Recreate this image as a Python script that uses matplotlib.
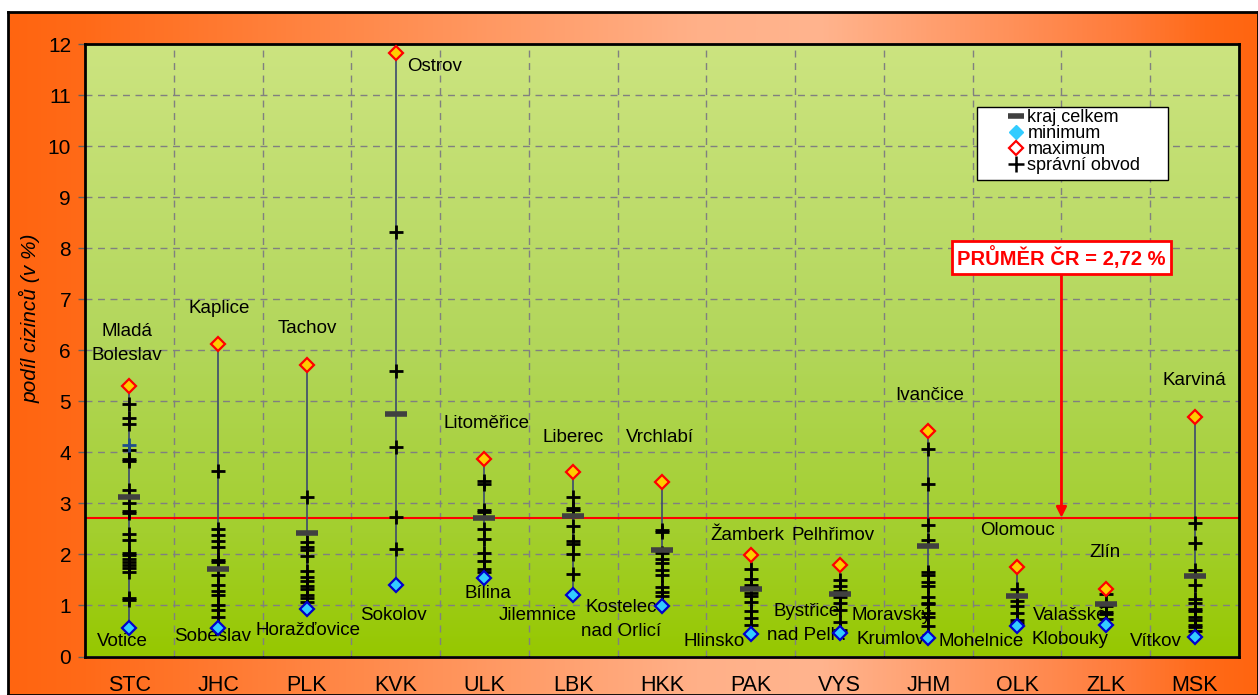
import matplotlib
matplotlib.use('Agg')
import matplotlib.pyplot as plt
import numpy as np
from matplotlib.colors import LinearSegmentedColormap
from matplotlib.lines import Line2D
from matplotlib.patches import Rectangle

plt.rcParams['font.family'] = ['Liberation Sans', 'DejaVu Sans']

# data: share of foreigners (%) by region
regions = ['STC', 'JHC', 'PLK', 'KVK', 'ULK', 'LBK', 'HKK', 'PAK', 'VYS', 'JHM', 'OLK', 'ZLK', 'MSK']
kraj_celkem = [3.12, 1.71, 2.41, 4.76, 2.72, 2.76, 2.09, 1.32, 1.22, 2.17, 1.19, 1.03, 1.58]
maximum = [5.30, 6.12, 5.71, 11.83, 3.86, 3.61, 3.41, 1.99, 1.79, 4.42, 1.76, 1.33, 4.70]
minimum = [0.55, 0.55, 0.94, 1.40, 1.54, 1.20, 0.98, 0.45, 0.47, 0.36, 0.60, 0.62, 0.39]
max_names = ['Mladá\nBoleslav', 'Kaplice', 'Tachov', 'Ostrov', 'Litoměřice', 'Liberec', 'Vrchlabí',
             'Žamberk', 'Pelhřimov', 'Ivančice', 'Olomouc', 'Zlín', 'Karviná']
min_names = ['Votice', 'Soběslav', 'Horažďovice', 'Sokolov', 'Bílina', 'Jilemnice', 'Kostelec\nnad Orlicí',
             'Hlinsko', 'Bystřice\nnad Pelh.', 'Moravský\nKrumlov', 'Mohelnice', 'Valašské\nKlobouky', 'Vítkov']

obvody_stc = [4.95, 4.67, 4.56, 4.05, 3.87, 3.83, 3.26, 3.01, 2.85, 2.82, 2.40, 2.28, 2.03, 1.99,
              1.92, 1.86, 1.79, 1.73, 1.65, 1.14, 1.10]
obvody_stc_blue = [4.15]
obvody_jhc = [3.63, 2.50, 2.39, 2.27, 2.15, 1.89, 1.85, 1.60, 1.40, 1.29, 1.20, 1.01, 0.92, 0.77]
obvody_plk = [3.13, 2.24, 2.14, 2.09, 1.96, 1.68, 1.56, 1.47, 1.38, 1.32, 1.20, 1.14, 1.07]
obvody_kvk = [8.31, 5.60, 4.11, 2.73, 2.11]
obvody_ulk = [3.44, 3.38, 2.88, 2.84, 2.49, 2.30, 2.03, 1.88, 1.71, 1.65]
obvody_lbk = [3.13, 2.90, 2.87, 2.56, 2.26, 2.20, 2.00, 1.62]
obvody_hkk = [2.47, 2.43, 2.02, 1.92, 1.83, 1.69, 1.60, 1.37, 1.27, 1.19]
obvody_pak = [1.71, 1.51, 1.40, 1.36, 1.24, 1.18, 1.07, 0.90, 0.75, 0.62]
obvody_vys = [1.49, 1.38, 1.29, 1.16, 1.04, 0.91, 0.68, 0.52]
obvody_jhm = [4.06, 3.37, 2.58, 2.28, 1.66, 1.60, 1.45, 1.38, 1.17, 1.05, 1.03, 0.86, 0.78, 0.60]
obvody_olk = [1.32, 1.09, 0.98, 0.85, 0.72, 0.65]
obvody_zlk = [1.22, 0.98, 0.88, 0.83, 0.73]
obvody_msk = [2.62, 2.23, 1.69, 1.41, 1.12, 1.04, 0.94, 0.90, 0.78, 0.72, 0.62, 0.57, 0.49]
obvody = [obvody_stc, obvody_jhc, obvody_plk, obvody_kvk, obvody_ulk, obvody_lbk, obvody_hkk,
          obvody_pak, obvody_vys, obvody_jhm, obvody_olk, obvody_zlk, obvody_msk]
prumer_cr = 2.72

# label placement (offset from category, height in %)
max_dx = [-0.03, 0.01, 0.0, 0.13, 0.02, 0.0, -0.02, -0.04, -0.07, 0.01, 0.01, -0.01, 0.0]
max_y = [6.13, 6.81, 6.42, 11.56, 4.57, 4.30, 4.30, 2.38, 2.38, 5.12, 2.46, 2.03, 5.40]
min_dx = [-0.075, -0.06, 0.01, -0.03, 0.04, -0.40, -0.46, -0.41, -0.37, -0.42, -0.40, -0.40, -0.44]
min_y = [0.30, 0.39, 0.50, 0.81, 1.24, 0.81, 0.72, 0.29, 0.65, 0.56, 0.30, 0.56, 0.30]

W, H = 1258, 695
fig = plt.figure(figsize=(W / 100, H / 100), dpi=100)

# orange chart area background
bg = fig.add_axes([8 / W, 0, 1 - 8 / W, 1 - 12 / H])
orange = LinearSegmentedColormap.from_list('orange', [
    (0.0, '#FF6510'), (0.06, '#FF6A18'), (0.55, '#FFB088'), (0.65, '#FFB48E'),
    (0.9, '#FF7A38'), (0.96, '#FF6A18'), (1.0, '#FF6510')])
bg.imshow(np.linspace(0, 1, 512)[None, :], aspect='auto', cmap=orange, extent=(0, 1, 0, 1))
bg.set_xticks([])
bg.set_yticks([])
for s in bg.spines.values():
    s.set_linewidth(2)
    s.set_color('black')

ax = fig.add_axes([85 / W, 1 - 656.5 / H, 1154 / W, 612.5 / H])
green = LinearSegmentedColormap.from_list('green', [
    (0.0, '#CCE480'), (0.5, '#B2D65A'), (0.8, '#A3CF2E'), (1.0, '#96C800')])
ax.imshow(np.linspace(0, 1, 256)[:, None], aspect='auto', cmap=green,
          extent=(-0.5, len(regions) - 0.5, 0, 12), origin='upper', zorder=0)
ax.set_xlim(-0.5, len(regions) - 0.5)
ax.set_ylim(0, 12)

# dashed grid
ax.hlines(range(1, 12), -0.5, len(regions) - 0.5, colors='#808080', linestyles=(0, (5, 4)), lw=1, zorder=1)
ax.vlines(np.arange(len(regions) - 1) + 0.5, 0, 12, colors='#808080', linestyles=(0, (5, 4)), lw=1, zorder=1)

ax.axhline(prumer_cr, color='red', lw=1.5, zorder=2)

for i in range(len(regions)):
    ax.plot([i, i], [minimum[i], maximum[i]], color='#3C4A6E', lw=1.2, zorder=3)
    ax.plot([i] * len(obvody[i]), obvody[i], '+', color='black', ms=10, mew=2, zorder=5)
    ax.plot(i, kraj_celkem[i], '_', color='#404040', ms=16, mew=4, zorder=6)
    ax.plot(i, maximum[i], 'D', mfc='#FFCC00', mec='red', ms=7.5, mew=1.6, zorder=7)
    ax.plot(i, minimum[i], 'D', mfc='#33CCFF', mec='#0000CC', ms=7.5, mew=1.6, zorder=7)
    ha = 'left' if regions[i] == 'KVK' else 'center'
    ax.text(i + max_dx[i], max_y[i], max_names[i], ha=ha, va='center', fontsize=13.5,
            linespacing=1.55, zorder=4)
    ax.text(i + min_dx[i], min_y[i], min_names[i], ha='center', va='center', fontsize=13.5,
            linespacing=1.55, zorder=4)
ax.plot([0], obvody_stc_blue, '+', color='#1F4E8C', ms=10, mew=2, zorder=5)

ax.annotate('PRŮMĚR ČR = 2,72 %', xy=(10.5, prumer_cr), xytext=(10.5, 7.82),
            ha='center', va='center', fontsize=14.5, fontweight='bold', color='red',
            bbox=dict(boxstyle='square,pad=0.25', fc='white', ec='red', lw=2),
            arrowprops=dict(arrowstyle='-|>', color='red', lw=2, mutation_scale=15,
                            shrinkA=0, shrinkB=0), zorder=8)

# legend: frame drawn separately so the box matches the original size
ax.add_patch(Rectangle((0.773, 0.778), 0.1655, 0.119, transform=ax.transAxes,
                       fc='white', ec='black', lw=1, zorder=9))
handles = [
    Line2D([], [], ls='none', marker='_', color='#404040', ms=11, mew=4),
    Line2D([], [], ls='none', marker='D', mfc='#33CCFF', mec='#33CCFF', ms=7),
    Line2D([], [], ls='none', marker='D', mfc='white', mec='red', ms=7, mew=1.6),
    Line2D([], [], ls='none', marker='+', color='black', ms=12, mew=1.8),
]
leg = ax.legend(handles, ['kraj celkem', 'minimum', 'maximum', 'správní obvod'],
                loc='upper left', bbox_to_anchor=(0.797, 0.9), fontsize=13,
                frameon=False, labelspacing=-0.05, handlelength=0.8, handletextpad=0.25,
                borderpad=0.2, borderaxespad=0)
leg.set_zorder(10)

ax.set_yticks(range(13))
ax.set_xticks(range(len(regions)))
ax.set_xticklabels(regions, fontsize=15.5)
ax.tick_params(axis='x', length=0, pad=13)
ax.tick_params(axis='y', labelsize=15, length=5, width=1, color='#606060', pad=5)
for s in ax.spines.values():
    s.set_linewidth(2)
    s.set_color('black')

fig.text(30 / W, 1 - 318 / H, 'podíl cizinců (v %)', rotation=90, ha='center', va='center',
         style='italic', fontsize=15)

fig.savefig('out.png', dpi=100)
